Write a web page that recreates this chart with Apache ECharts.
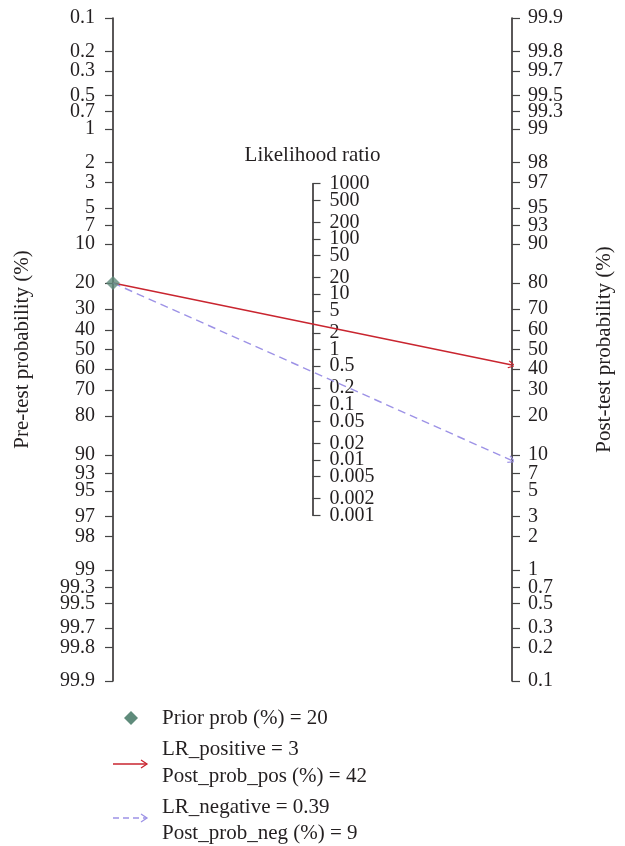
<!DOCTYPE html>
<html>
<head>
<meta charset="utf-8">
<script src="https://cdn.jsdelivr.net/npm/echarts@6/dist/echarts.min.js"></script>
<style>
html, body { margin: 0; padding: 0; background: #fff; }
#chart { width: 625px; height: 846px; }
</style>
</head>
<body>
<div id="chart"></div>
<script>
// tick labels of the probability scales (%) and of the likelihood ratio scale
const probTicks = [0.1, 0.2, 0.3, 0.5, 0.7, 1, 2, 3, 5, 7, 10, 20, 30, 40, 50, 60, 70, 80, 90, 93, 95, 97, 98, 99, 99.3, 99.5, 99.7, 99.8, 99.9];
const lrTicks = [1000, 500, 200, 100, 50, 20, 10, 5, 2, 1, 0.5, 0.2, 0.1, 0.05, 0.02, 0.01, 0.005, 0.002, 0.001];

// nomogram values
const priorProb = 20;
const lrPositive = 3;
const postProbPos = 42;
const lrNegative = 0.39;
const postProbNeg = 9;

const textColor = '#231f20';
const redColor = '#c9252f';
const purpleColor = '#9d92e6';
const diamondColor = '#5f8b7b';
const font = '"Liberation Serif", "DejaVu Serif", serif';
const fs = 20;   // tick labels
const fs2 = 21;  // names and legend

const logit = p => Math.log((p / 100) / (1 - p / 100));
const L = logit(99.9);

// pick the tick text that is closest to a value (log distance)
function nearest(list, v) {
    let best = list[0];
    list.forEach(t => {
        if (Math.abs(Math.log(t) - Math.log(v)) < Math.abs(Math.log(best) - Math.log(v))) best = t;
    });
    return String(best);
}

const W = 625, HH = 846;
const gridTop = 18, gridBottom = 165, gridLeft = 113, gridRight = 113;
const H = HH - gridTop - gridBottom;
// the LR scale sits halfway, at half the logit scale
const lrHalf = Math.log(1000) / 2;
const midPad = H * (1 - lrHalf / L) / 2;
const midLeft = gridLeft + (W - gridLeft - gridRight) / 2;

// echarts drops a label next to the end labels when they touch,
// so the 2nd and 2nd-last LR labels go on an overlaid axis of their own
const lrOuter = [lrTicks[1], lrTicks[lrTicks.length - 2]];
const lrMain = lrTicks.filter(r => lrOuter.indexOf(r) < 0);

const chart = echarts.init(document.getElementById('chart'));

const arrowPath = 'path://M5,0L10,8L8.8,8.9L5,2.2L1.2,8.9L0,8Z';

const labelStyle = { fontFamily: font, fontSize: fs, color: textColor, showMinLabel: true, showMaxLabel: true };
const nameStyle = { fontFamily: font, fontSize: fs2, color: textColor };
const legendFont = fs2 + 'px ' + font;
const tickLine = { color: '#444', width: 1.2 };

chart.setOption({
    animation: false,
    grid: [
        { left: gridLeft, right: gridRight, top: gridTop, bottom: gridBottom, outerBoundsMode: 'none' },
        { left: midLeft, width: 1, top: gridTop + midPad, bottom: gridBottom + midPad, outerBoundsMode: 'none' }
    ],
    xAxis: [
        { type: 'value', gridIndex: 0, min: 0, max: 1, show: false },
        { type: 'value', gridIndex: 1, min: 0, max: 1, show: false }
    ],
    yAxis: [
        {
            // pre-test probability, 0.1 at top
            type: 'value', gridIndex: 0, position: 'left', min: -L, max: L,
            name: 'Pre-test probability (%)', nameLocation: 'middle', nameRotate: 90, nameGap: 80,
            nameTextStyle: nameStyle,
            splitLine: { show: false },
            axisLine: { show: true, lineStyle: { color: textColor, width: 1.5 } },
            axisTick: { show: true, length: 8, customValues: probTicks.map(p => -logit(p)), lineStyle: tickLine },
            axisLabel: {
                ...labelStyle, margin: 18,
                customValues: probTicks.map(p => -logit(p)),
                formatter: v => nearest(probTicks, 100 / (1 + Math.exp(v)))
            }
        },
        {
            // post-test probability, 99.9 at top
            type: 'value', gridIndex: 0, position: 'right', min: -L, max: L,
            name: 'Post-test probability (%)', nameLocation: 'middle', nameRotate: 90, nameGap: 82,
            nameTextStyle: nameStyle,
            splitLine: { show: false },
            axisLine: { show: true, lineStyle: { color: textColor, width: 1.5 } },
            axisTick: { show: true, length: 8, customValues: probTicks.map(p => logit(p)), lineStyle: tickLine },
            axisLabel: {
                ...labelStyle, margin: 16,
                customValues: probTicks.map(p => logit(p)),
                formatter: v => nearest(probTicks, 100 / (1 + Math.exp(-v)))
            }
        },
        {
            // likelihood ratio, log10 scale
            type: 'value', gridIndex: 1, position: 'left', min: -3, max: 3,
            name: 'Likelihood ratio', nameLocation: 'end', nameGap: 18,
            nameTextStyle: { ...nameStyle, align: 'center' },
            splitLine: { show: false },
            axisLine: { show: true, lineStyle: { color: textColor, width: 1.5 } },
            axisTick: { show: true, inside: true, length: 8, customValues: lrTicks.map(r => Math.log10(r)), lineStyle: tickLine },
            axisLabel: {
                ...labelStyle, inside: true, margin: 17,
                customValues: lrMain.map(r => Math.log10(r)),
                formatter: v => nearest(lrTicks, Math.pow(10, v))
            }
        },
        {
            type: 'value', gridIndex: 1, position: 'left', min: -3, max: 3,
            splitLine: { show: false },
            axisLine: { show: false },
            axisTick: { show: false },
            axisLabel: {
                ...labelStyle, inside: true, margin: 17,
                customValues: lrOuter.map(r => Math.log10(r)),
                formatter: v => nearest(lrTicks, Math.pow(10, v))
            }
        }
    ],
    series: [
        {
            name: 'LR_positive',
            type: 'lines', coordinateSystem: 'cartesian2d', xAxisIndex: 0, yAxisIndex: 0, z: 2,
            symbol: ['none', arrowPath], symbolSize: [9, 8], symbolOffset: [0, 4],
            lineStyle: { color: redColor, width: 1.4, opacity: 1 },
            data: [{ coords: [[0, -logit(priorProb)], [1, logit(postProbPos)]] }]
        },
        {
            name: 'LR_negative',
            type: 'lines', coordinateSystem: 'cartesian2d', xAxisIndex: 0, yAxisIndex: 0, z: 2,
            symbol: ['none', arrowPath], symbolSize: [9, 8], symbolOffset: [0, 4],
            lineStyle: { color: purpleColor, width: 1.4, type: [8, 5], opacity: 1 },
            data: [{ coords: [[0, -logit(priorProb)], [1, logit(postProbNeg)]] }]
        },
        {
            name: 'Prior prob',
            type: 'scatter', xAxisIndex: 0, yAxisIndex: 0, z: 3,
            symbol: 'diamond', symbolSize: 14,
            itemStyle: { color: diamondColor },
            data: [[0, -logit(priorProb)]]
        }
    ],
    graphic: [
        { type: 'polygon', shape: { points: [[131, 711], [138, 718], [131, 725], [124, 718]] }, style: { fill: diamondColor } },
        { type: 'text', x: 162, y: 718, style: { text: 'Prior prob (%) = ' + priorProb, font: legendFont, fill: textColor, verticalAlign: 'middle' } },

        { type: 'line', shape: { x1: 113, y1: 764, x2: 147, y2: 764 }, style: { stroke: redColor, lineWidth: 1.3 } },
        { type: 'polyline', shape: { points: [[141, 760], [147, 764], [141, 768]] }, style: { stroke: redColor, lineWidth: 1.3, fill: null } },
        { type: 'text', x: 162, y: 749, style: { text: 'LR_positive = ' + lrPositive, font: legendFont, fill: textColor, verticalAlign: 'middle' } },
        { type: 'text', x: 162, y: 776, style: { text: 'Post_prob_pos (%) = ' + postProbPos, font: legendFont, fill: textColor, verticalAlign: 'middle' } },

        { type: 'line', shape: { x1: 113, y1: 818, x2: 147, y2: 818 }, style: { stroke: purpleColor, lineWidth: 1.3, lineDash: [6, 4] } },
        { type: 'polyline', shape: { points: [[141, 814], [147, 818], [141, 822]] }, style: { stroke: purpleColor, lineWidth: 1.3, fill: null } },
        { type: 'text', x: 162, y: 807, style: { text: 'LR_negative = ' + lrNegative, font: legendFont, fill: textColor, verticalAlign: 'middle' } },
        { type: 'text', x: 162, y: 833, style: { text: 'Post_prob_neg (%) = ' + postProbNeg, font: legendFont, fill: textColor, verticalAlign: 'middle' } }
    ]
});
</script>
</body>
</html>
